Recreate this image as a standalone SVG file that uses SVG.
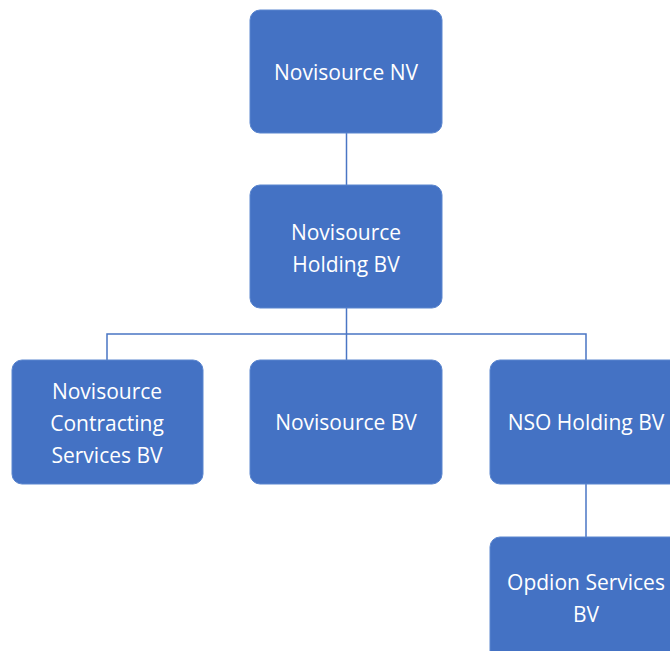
<svg xmlns="http://www.w3.org/2000/svg" width="670" height="651" viewBox="0 0 670 651">
<style>
.box{fill:#4472C4;stroke:#5B86CF;stroke-width:1}
.lbl{fill:#FFFFFF;font-family:"Open Sans","Liberation Sans",sans-serif;font-size:21px;text-anchor:middle;dominant-baseline:central}
.conn{fill:none;stroke:#4A76C4;stroke-width:1.5}
</style>
<rect width="670" height="651" fill="#FFFFFF"/>
<g id="connectors">
<line class="conn" x1="346.5" y1="133" x2="346.5" y2="185"/>
<line class="conn" x1="346.5" y1="308" x2="346.5" y2="360"/>
<polyline class="conn" points="107,360 107,334 586,334 586,360"/>
<line class="conn" x1="586" y1="484" x2="586" y2="537"/>
</g>
<g id="novisource-nv">
<rect class="box" x="250" y="10" width="192" height="123" rx="10"/>
<text class="lbl" x="346" y="72">Novisource NV</text>
</g>
<g id="novisource-holding-bv">
<rect class="box" x="250" y="185" width="192" height="123" rx="10"/>
<text class="lbl" x="346" y="232">Novisource</text>
<text class="lbl" x="346" y="264">Holding BV</text>
</g>
<g id="novisource-contracting-services-bv">
<rect class="box" x="12" y="360" width="191" height="124" rx="10"/>
<text class="lbl" x="107" y="391">Novisource</text>
<text class="lbl" x="107" y="423">Contracting</text>
<text class="lbl" x="107" y="455">Services BV</text>
</g>
<g id="novisource-bv">
<rect class="box" x="250" y="360" width="192" height="124" rx="10"/>
<text class="lbl" x="346" y="422">Novisource BV</text>
</g>
<g id="nso-holding-bv">
<rect class="box" x="490" y="360" width="192" height="124" rx="10"/>
<text class="lbl" x="586" y="422">NSO Holding BV</text>
</g>
<g id="opdion-services-bv">
<rect class="box" x="490" y="537" width="192" height="124" rx="10"/>
<text class="lbl" x="586" y="582">Opdion Services</text>
<text class="lbl" x="586" y="614">BV</text>
</g>
</svg>
